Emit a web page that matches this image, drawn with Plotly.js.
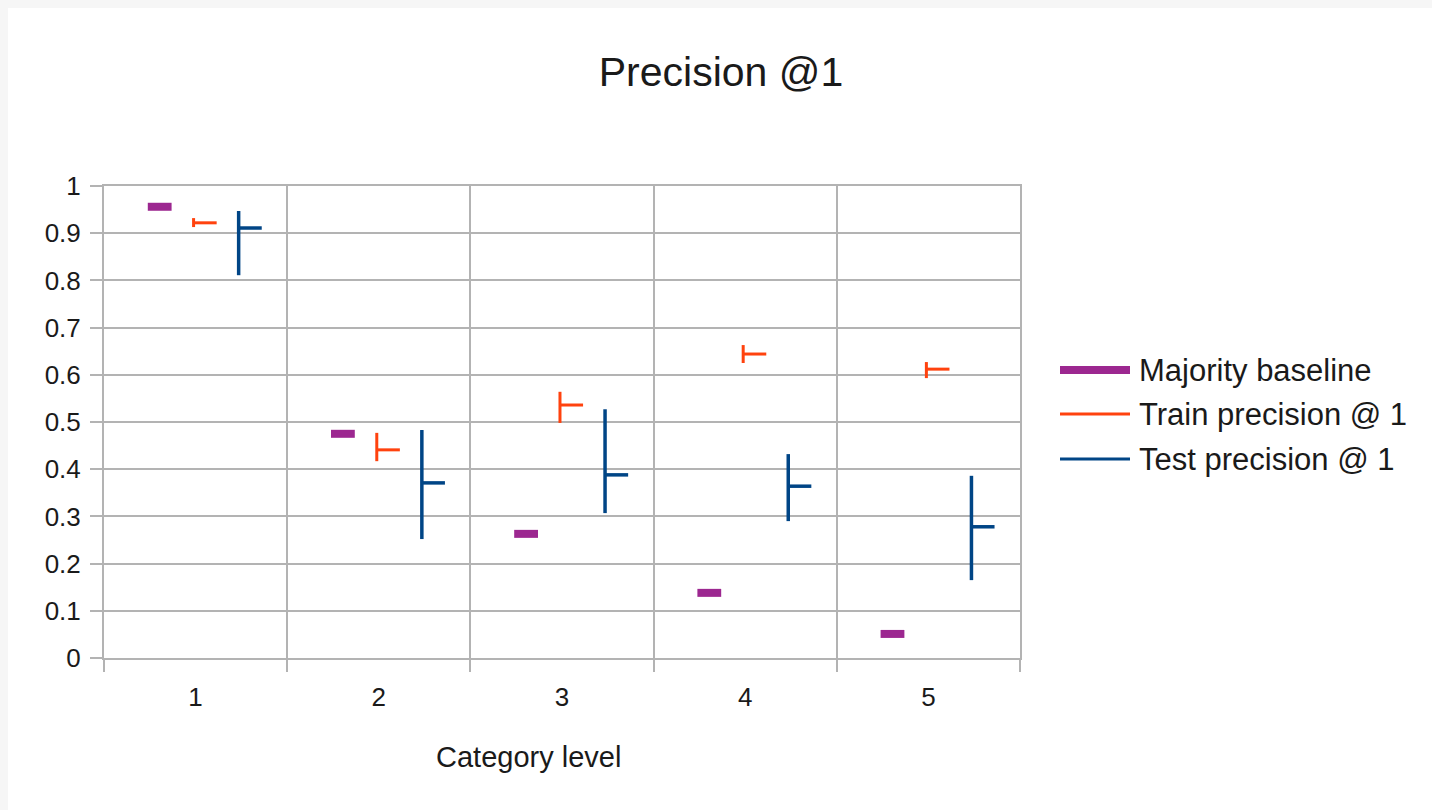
<!DOCTYPE html>
<html>
<head>
<meta charset="utf-8">
<script src="https://cdn.plot.ly/plotly-3.0.1.min.js"></script>
<style>html,body{margin:0;padding:0;background:#fff;}#chart{width:1432px;height:810px;}</style>
</head>
<body>
<div id="chart"></div>
<script>
// ---- data ----
const levels = [1, 2, 3, 4, 5];
const tickLabels = ["1", "2", "3", "4", "5"];
const majority = [0.956, 0.475, 0.263, 0.138, 0.051];
const trainHigh = [0.932, 0.477, 0.564, 0.663, 0.627];
const trainLow = [0.913, 0.417, 0.498, 0.625, 0.593];
const trainClose = [0.922, 0.441, 0.536, 0.644, 0.612];
const testHigh = [0.947, 0.483, 0.527, 0.432, 0.386];
const testLow = [0.811, 0.252, 0.307, 0.290, 0.165];
const testClose = [0.911, 0.371, 0.388, 0.364, 0.278];
const seriesNames = ["Majority baseline", "Train precision @ 1", "Test precision @ 1"];

// ---- styling / layout constants ----
const colors = ["#9c2790", "#ff420e", "#004586"];
const offMaj = -0.196, offTrain = -0.011, offTest = 0.235, tickLen = 0.126;
const FONT = "Liberation Sans, Arial, sans-serif";
const TXT = "#1a1a1a";

function stockTrace(name, off, lo, hi, cl, color, w) {
  const x = [], y = [];
  levels.forEach((c, i) => {
    const p = c + off;
    x.push(p, p, null, p, p + tickLen, null);
    y.push(lo[i], hi[i], null, cl[i], cl[i], null);
  });
  return {type: "scatter", mode: "lines", name, x, y,
    line: {color, width: w}, hoverinfo: "skip", showlegend: false, connectgaps: false};
}

const traces = [
  {type: "scatter", mode: "markers", name: seriesNames[0],
   x: levels.map(c => c + offMaj), y: majority, showlegend: false,
   marker: {symbol: "line-ew", size: 17, color: colors[0], line: {color: colors[0], width: 8}}},
  stockTrace(seriesNames[1], offTrain, trainLow, trainHigh, trainClose, colors[1], 3),
  stockTrace(seriesNames[2], offTest, testLow, testHigh, testClose, colors[2], 3.5)
];

// plot area in px: x 104..1020, y 186..658
const L = 104, R = 1020, T = 186, B = 658;
const px2x = p => (p - L) / (R - L);
const py2y = p => (B - p) / (B - T);

const shapes = [
  {type: "rect", xref: "paper", yref: "paper", x0: px2x(8), x1: px2x(1440), y0: py2y(820), y1: py2y(8),
   fillcolor: "#ffffff", line: {width: 0}, layer: "below"}
];
const legendY = [370, 414, 459];
const legendW = [8, 3, 3];
const annotations = [];
seriesNames.forEach((n, i) => {
  shapes.push({type: "line", xref: "paper", yref: "paper", x0: px2x(1060), x1: px2x(1130),
    y0: py2y(legendY[i]), y1: py2y(legendY[i]), line: {color: colors[i], width: legendW[i]}});
  annotations.push({xref: "paper", yref: "paper", x: px2x(1137), y: py2y(legendY[i]),
    xanchor: "left", yanchor: "middle", showarrow: false, text: n,
    font: {family: FONT, size: 31, color: TXT}});
});
annotations.push({xref: "paper", yref: "paper", x: px2x(528), y: py2y(757),
  xanchor: "center", yanchor: "middle", showarrow: false, text: "Category level",
  font: {family: FONT, size: 29, color: TXT}});

const grid = "#b3b3b3";
const layout = {
  width: 1432, height: 810,
  margin: {l: L, r: 1432 - R, t: T, b: 810 - B, pad: 0},
  paper_bgcolor: "#f6f6f6", plot_bgcolor: "#ffffff",
  font: {family: FONT, color: TXT},
  showlegend: false,
  title: {text: "Precision @1", x: 721 / 1432, xanchor: "center", y: 1 - 72 / 810, yanchor: "middle",
    font: {family: FONT, size: 41, color: TXT}},
  xaxis: {range: [0.5, 5.5], tickmode: "array", tickvals: levels, ticktext: tickLabels,
    ticks: "outside", ticklen: 15, tickcolor: "rgba(0,0,0,0)", showgrid: false, zeroline: false,
    showline: true, linecolor: grid, linewidth: 2, mirror: true,
    tickfont: {family: FONT, size: 26, color: TXT},
    minor: {tickmode: "linear", tick0: 0.5, dtick: 1, ticks: "outside", ticklen: 12, tickwidth: 2,
      tickcolor: grid, showgrid: true, gridcolor: grid, gridwidth: 2},
    fixedrange: true},
  yaxis: {range: [0, 1], tickmode: "linear", tick0: 0, dtick: 0.1, ticks: "outside", ticklen: 12,
    tickwidth: 2, tickcolor: grid, showgrid: true, gridcolor: grid, gridwidth: 2, zeroline: false,
    showline: true, linecolor: grid, linewidth: 2, mirror: true,
    tickfont: {family: FONT, size: 26, color: TXT}, ticklabelstandoff: 4, fixedrange: true},
  shapes, annotations
};

Plotly.newPlot("chart", traces, layout, {displayModeBar: false, staticPlot: true});
</script>
</body>
</html>
